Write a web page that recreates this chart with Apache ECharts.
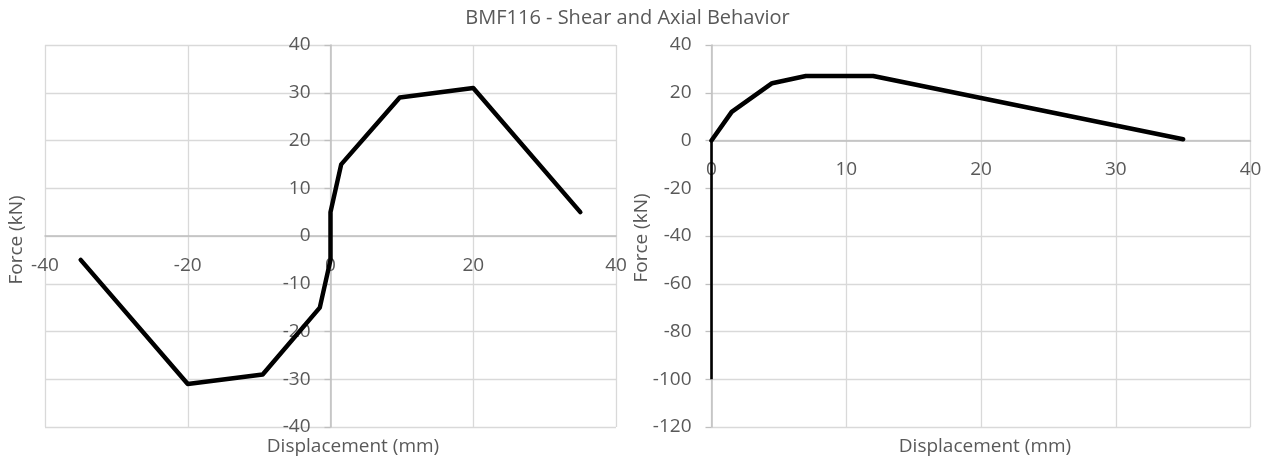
<!DOCTYPE html>
<html>
<head>
<meta charset="utf-8">
<script src="https://cdn.jsdelivr.net/npm/echarts@6/dist/echarts.min.js"></script>
<style>html,body{margin:0;padding:0;background:#fff;}#c{width:1271px;height:461px;}</style>
</head>
<body>
<div id="c"></div>
<script>
var titleText = 'BMF116 - Shear and Axial Behavior';
var xName = 'Displacement (mm)';
var yName = 'Force (kN)';
var shearDisp  = [-35, -20, -9.5, -1.5, 0, 0, 1.5, 9.7, 20, 35];
var shearForce = [-5, -31, -29, -15, -5, 5, 15, 29, 31, 5];
var axialDisp  = [0, 0, 1.5, 4.5, 7, 12, 35];
var axialForce = [-100, 0, 12, 24, 27, 27, 0.5];

function pairs(xs, ys) { return xs.map(function (x, i) { return [x, ys[i]]; }); }

var FONT = 'Open Sans';
var TXT = '#595959';
var GRIDC = '#d9d9d9';
var AXC = '#bfbfbf';

// plot rectangles (pixels)
var G0 = { left: 45, right: 655, top: 45, bottom: 34 };
var G1 = { left: 711.5, right: 20.5, top: 45, bottom: 34 };
var H = 461, W = 1271;

function xAx(idx, min, max, intv, offset) {
  return {
    gridIndex: idx, type: 'value', min: min, max: max, interval: intv,
    position: 'bottom', offset: offset,
    axisLine: { show: true, onZero: false, lineStyle: { color: AXC, width: 1.5 } },
    axisTick: { show: false },
    axisLabel: { margin: 20, color: TXT, fontSize: 19, fontFamily: FONT, hideOverlap: false },
    splitLine: { show: true, lineStyle: { color: GRIDC, width: 1.3 } }
  };
}
function yAx(idx, min, max, intv, offset) {
  return {
    gridIndex: idx, type: 'value', min: min, max: max, interval: intv,
    position: 'left', offset: offset,
    axisLine: { show: true, onZero: false, lineStyle: { color: AXC, width: 1.5 } },
    axisTick: { show: true, length: 6, lineStyle: { color: AXC, width: 1.3 } },
    axisLabel: { margin: 20, color: TXT, fontSize: 19, fontFamily: FONT, hideOverlap: false },
    splitLine: { show: true, lineStyle: { color: GRIDC, width: 1.3 } }
  };
}

// offsets that put the axes at the zero of the other axis
var h0 = H - G0.top - G0.bottom, w0 = W - G0.left - G0.right;
var h1 = H - G1.top - G1.bottom;
var xOff0 = -h0 * (0 - (-40)) / 80;      // y=0 in [-40,40]
var yOff0 = -w0 * (0 - (-40)) / 80;      // x=0 in [-40,40]
var xOff1 = -h1 * (0 - (-120)) / 160;    // y=0 in [-120,40]

var chart = echarts.init(document.getElementById('c'), null, { renderer: 'canvas' });
chart.setOption({
  animation: false,
  backgroundColor: '#fff',
  grid: [
    { left: G0.left, right: G0.right, top: G0.top, bottom: G0.bottom, containLabel: false },
    { left: G1.left, right: G1.right, top: G1.top, bottom: G1.bottom, containLabel: false }
  ],
  xAxis: [xAx(0, -40, 40, 20, xOff0), xAx(1, 0, 40, 10, xOff1)],
  yAxis: [yAx(0, -40, 40, 10, yOff0), yAx(1, -120, 40, 20, 0)],
  series: [
    { type: 'line', xAxisIndex: 0, yAxisIndex: 0, data: pairs(shearDisp, shearForce), showSymbol: false,
      lineStyle: { color: '#000', width: 4.5, cap: 'round', join: 'round' } },
    // vertical part of the axial curve lies on the plot edge (x = 0), drawn half-width as if clipped
    { type: 'line', xAxisIndex: 1, yAxisIndex: 1, data: pairs(axialDisp.slice(0, 2), axialForce.slice(0, 2)), showSymbol: false,
      lineStyle: { color: '#000', width: 2.6, cap: 'butt', join: 'round' } },
    { type: 'line', xAxisIndex: 1, yAxisIndex: 1, data: pairs(axialDisp.slice(1), axialForce.slice(1)), showSymbol: false,
      lineStyle: { color: '#000', width: 4.5, cap: 'round', join: 'round' } }
  ],
  graphic: [
    { type: 'text', x: 627.5, y: 18.5, style: { text: titleText, fill: TXT, font: '20px "Open Sans"', textAlign: 'center', textVerticalAlign: 'middle' } },
    { type: 'text', x: 353, y: 447, style: { text: xName, fill: TXT, font: '19px "Open Sans"', textAlign: 'center', textVerticalAlign: 'middle' } },
    { type: 'text', x: 985, y: 447, style: { text: xName, fill: TXT, font: '19px "Open Sans"', textAlign: 'center', textVerticalAlign: 'middle' } },
    { type: 'text', x: 17, y: 240, rotation: Math.PI / 2, style: { text: yName, fill: TXT, font: '19px "Open Sans"', textAlign: 'center', textVerticalAlign: 'middle' } },
    { type: 'text', x: 642, y: 238, rotation: Math.PI / 2, style: { text: yName, fill: TXT, font: '19px "Open Sans"', textAlign: 'center', textVerticalAlign: 'middle' } }
  ]
});
</script>
</body>
</html>
